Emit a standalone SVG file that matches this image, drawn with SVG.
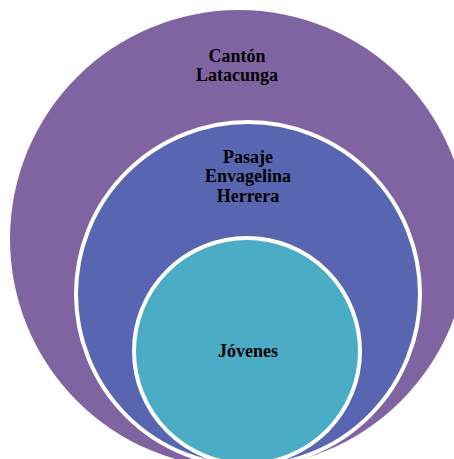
<svg xmlns="http://www.w3.org/2000/svg" width="454" height="459" viewBox="0 0 454 459">
<style>
.lbl{font-family:"Liberation Serif","Times New Roman",serif;font-weight:bold;font-size:18px;fill:#000;text-anchor:middle}
.ring{stroke:#fff;stroke-width:4}
</style>
<rect width="454" height="459" fill="#fff"/>
<g id="canton">
<circle cx="239" cy="239" r="229" fill="#8064A2"/>
<text class="lbl" x="237" y="62">Cantón</text>
<text class="lbl" x="237" y="81">Latacunga</text>
</g>
<g id="pasaje">
<circle class="ring" cx="248" cy="294" r="172" fill="#5866B2"/>
<text class="lbl" x="248" y="163">Pasaje</text>
<text class="lbl" x="248" y="182">Envagelina</text>
<text class="lbl" x="248" y="202">Herrera</text>
</g>
<g id="jovenes">
<circle class="ring" cx="247" cy="351" r="113" fill="#4BACC6"/>
<text class="lbl" x="248" y="357">Jóvenes</text>
</g>
<g id="connectors"/>
</svg>
